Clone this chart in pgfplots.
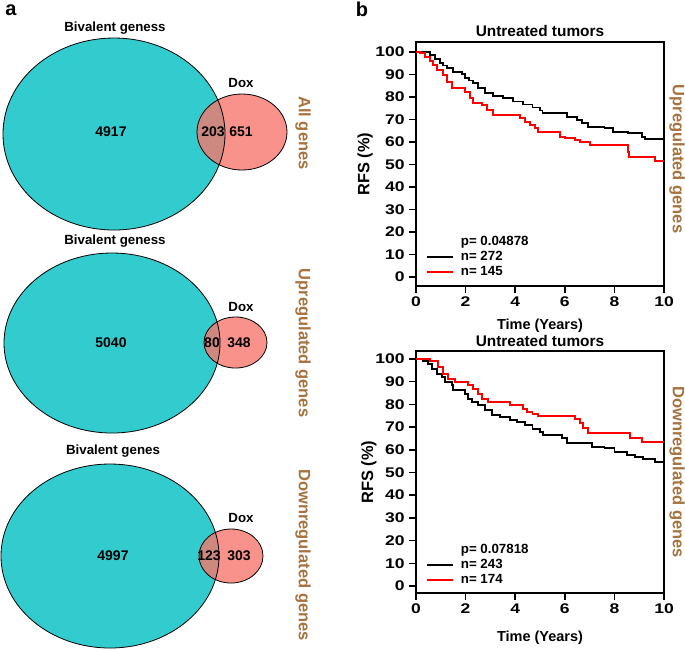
\documentclass[border=0pt]{standalone}
\usepackage{fontspec}
\setmainfont{Liberation Sans}
\usepackage{pgfplots}
\pgfplotsset{compat=1.18}
\definecolor{venncyan}{RGB}{51,204,206}
\definecolor{vennsalmon}{RGB}{249,146,138}
\definecolor{vennboth}{RGB}{205,136,128}
\definecolor{brownlab}{RGB}{166,114,62}
\definecolor{kmred}{RGB}{255,0,0}

\pgfplotsset{
  kmstyle/.style={
    scale only axis, width=248pt,
    xmin=0, xmax=10,
    xtick={0,2,...,10}, ytick={0,10,...,100},
    tick align=outside, xtick pos=bottom, ytick pos=left,
    major tick length=7pt,
    axis line style={line width=1.7pt},
    tick style={line width=1.5pt, black},
    ticklabel style={font=\fontsize{14}{14}\selectfont\bfseries, xscale=1.25},
    /pgf/number format/assume math mode=true,
    every axis title shift=0pt,
    title style={font=\fontsize{15.4}{15}\selectfont\bfseries, anchor=center},
    xlabel style={font=\fontsize{14.5}{15}\selectfont\bfseries, anchor=center},
    ylabel style={font=\fontsize{16.4}{16}\selectfont\bfseries, anchor=center},
    legend cell align=left,
    legend image code/.code={\draw[#1, line width=2pt] (0pt,0pt) -- (26pt,0pt);},
    legend style={draw=none, fill=none, inner sep=0pt, outer sep=0pt,
      font=\fontsize{13.3}{15}\selectfont\bfseries,
      nodes={inner sep=0.5pt, text height=10pt, text depth=3pt},
      row sep=1pt,
      /tikz/every odd column/.append style={column sep=6pt},
      anchor=south west},
  },
  kmline/.style={const plot, line width=1.8pt, no marks},
}

\begin{document}
\begin{tikzpicture}
\useasboundingbox (0,0) rectangle (685pt,-649pt);

% panel a: Venn diagrams, in pixel coordinates
\begin{axis}[at={(0pt,0pt)}, anchor=north west, scale only axis,
  width=685pt, height=649pt, xmin=0, xmax=685, ymin=0, ymax=649,
  y dir=reverse, hide axis, clip=false]
  \node[font=\fontsize{20}{20}\selectfont\bfseries] at (axis cs:11,10) {a};
  \node[font=\fontsize{20}{20}\selectfont\bfseries] at (axis cs:362,9) {b};

  % all genes
  \fill[venncyan] (axis cs:114,134) ellipse [x radius=111, y radius=96];
  \fill[vennsalmon] (axis cs:242,132) ellipse [x radius=45, y radius=38];
  \begin{scope}
    \clip (axis cs:114,134) ellipse [x radius=111, y radius=96];
    \fill[vennboth] (axis cs:242,132) ellipse [x radius=45, y radius=38];
  \end{scope}
  \draw[line width=0.8pt] (axis cs:114,134) ellipse [x radius=111, y radius=96];
  \draw[line width=0.8pt] (axis cs:242,132) ellipse [x radius=45, y radius=38];

  % upregulated
  \fill[venncyan] (axis cs:112,343) ellipse [x radius=108, y radius=90];
  \fill[vennsalmon] (axis cs:235.5,342.5) ellipse [x radius=31.5, y radius=25.5];
  \begin{scope}
    \clip (axis cs:112,343) ellipse [x radius=108, y radius=90];
    \fill[vennboth] (axis cs:235.5,342.5) ellipse [x radius=31.5, y radius=25.5];
  \end{scope}
  \draw[line width=0.8pt] (axis cs:112,343) ellipse [x radius=108, y radius=90];
  \draw[line width=0.8pt] (axis cs:235.5,342.5) ellipse [x radius=31.5, y radius=25.5];

  % downregulated
  \fill[venncyan] (axis cs:110,556) ellipse [x radius=109, y radius=92];
  \fill[vennsalmon] (axis cs:231,556) ellipse [x radius=32, y radius=27];
  \begin{scope}
    \clip (axis cs:110,556) ellipse [x radius=109, y radius=92];
    \fill[vennboth] (axis cs:231,556) ellipse [x radius=32, y radius=27];
  \end{scope}
  \draw[line width=0.8pt] (axis cs:110,556) ellipse [x radius=109, y radius=92];
  \draw[line width=0.8pt] (axis cs:231,556) ellipse [x radius=32, y radius=27];

  \begin{scope}[every node/.style={font=\fontsize{13.3}{14}\selectfont\bfseries}]
    \node at (axis cs:115,28) {Bivalent geness};
    \node at (axis cs:241,83) {Dox};
    \node at (axis cs:115,241) {Bivalent geness};
    \node at (axis cs:241,307) {Dox};
    \node at (axis cs:113,451) {Bivalent genes};
    \node at (axis cs:241,518) {Dox};
  \end{scope}
  \begin{scope}[every node/.style={font=\fontsize{14}{14}\selectfont\bfseries}]
    \node at (axis cs:111,132) {4917};
    \node at (axis cs:213,132) {203};
    \node at (axis cs:241,132) {651};
    \node at (axis cs:111,343) {5040};
    \node at (axis cs:212,343) {80};
    \node at (axis cs:239,343) {348};
    \node at (axis cs:113,556) {4997};
    \node at (axis cs:209,556) {123};
    \node at (axis cs:239,556) {303};
  \end{scope}
  \begin{scope}[every node/.style={rotate=-90, text=brownlab, font=\fontsize{16.5}{17}\selectfont\bfseries}]
    \node at (axis cs:303,133) {All genes};
    \node at (axis cs:303,343) {Upregulated genes};
    \node at (axis cs:303,555) {Downregulated genes};
    \node at (axis cs:677,159) {Upregulated genes};
    \node at (axis cs:677,472) {Downregulated genes};
  \end{scope}
\end{axis}

% panel b, top: upregulated genes
\begin{axis}[kmstyle, at={(416pt,-286pt)}, anchor=south west, height=244pt,
  ymin=-4, ymax=104.4,
  title={Untreated tumors}, title style={at={(0.5,1.045)}},
  xlabel={Time (Years)}, xlabel style={at={(axis description cs:0.5,-0.162)}},
  ylabel={RFS (\%)}, ylabel style={at={(axis description cs:-0.205,0.5)}},
  legend style={at={(axis cs:0.42,-0.92)}}]
\addlegendimage{empty legend}\addlegendentry{p= 0.04878}
\addplot[kmline, black] coordinates {
  (0,100) (0.36,100) (0.56,98.7) (0.75,97) (0.97,95.1) (1.1,94) (1.25,92.9)
  (1.5,91) (1.85,90.2) (1.98,88.4) (2.15,87.3) (2.3,86.2) (2.5,84) (2.78,81.8)
  (3.1,80.5) (3.5,79.5) (3.9,78) (4.3,76.6) (4.7,75.3) (5.0,74) (5.1,72.7)
  (5.9,72.7) (6.1,71.1) (6.5,69.8) (6.7,68.5) (6.94,66.7) (7.6,66.2) (7.94,64.4)
  (8.55,64) (9.1,62.2) (9.23,61.3) (10,61.3)
};
\addlegendentry{n= 272}
\addplot[kmline, kmred] coordinates {
  (0,100) (0.16,99.6) (0.36,97.8) (0.55,96) (0.7,94.2) (0.85,92) (1.1,89.8)
  (1.25,86.7) (1.45,84) (1.77,84) (1.98,82.2) (2.18,79.6) (2.3,77.3) (2.66,76.4)
  (2.86,74.2) (3.1,72) (3.9,72) (4.2,70.7) (4.4,68.9) (4.6,67.6) (4.8,66.2)
  (4.92,64.4) (5.69,64.4) (5.8,62.2) (6.0,61.8) (6.4,60.9) (6.6,60) (7.0,58.7)
  (8.5,58.7) (8.55,55.6) (8.6,53.3) (9.64,53.3) (9.64,51.6) (10,51.6)
};
\addlegendentry{n= 145}
\end{axis}

% panel b, bottom: downregulated genes
\begin{axis}[kmstyle, at={(416pt,-593pt)}, anchor=south west, height=242pt,
  ymin=-3.1, ymax=103.5,
  title={Untreated tumors}, title style={at={(0.5,1.041)}},
  xlabel={Time (Years)}, xlabel style={at={(axis description cs:0.5,-0.186)}},
  ylabel={RFS (\%)}, ylabel style={at={(axis description cs:-0.19,0.5)}},
  legend style={at={(axis cs:0.42,-0.6)}}]
\addlegendimage{empty legend}\addlegendentry{p= 0.07818}
\addplot[kmline, black] coordinates {
  (0,100) (0.28,99.1) (0.48,97.8) (0.65,95.6) (0.85,93.4) (1.05,92) (1.17,89.9)
  (1.45,88.5) (1.5,86.3) (1.98,84.6) (2.1,82.4) (2.26,81) (2.5,79.7) (2.78,77.5)
  (3.06,75.3) (3.4,74.4) (3.8,73.1) (4.07,72.2) (4.4,70.9) (4.7,69.2) (5.0,67.8)
  (5.12,66.5) (5.9,65.2) (6.1,63) (7.1,61.2) (7.6,60.8) (8.0,59) (8.5,57.7)
  (8.83,56.8) (9.15,55.9) (9.64,54.6) (10,54.6)
};
\addlegendentry{n= 243}
\addplot[kmline, kmred] coordinates {
  (0,100) (0.56,99.1) (0.89,96.5) (1.1,93.4) (1.3,91.2) (1.57,89.9) (2.1,88.5)
  (2.3,86.8) (2.5,84.6) (2.66,82.4) (2.9,81) (3.8,79.7) (4.3,78) (4.48,76.7)
  (4.7,75.8) (4.92,74.9) (6.4,73.6) (6.6,71.8) (6.74,69.6) (6.94,67.4)
  (8.63,65.2) (9.1,63.4) (10,63.4)
};
\addlegendentry{n= 174}
\end{axis}
\end{tikzpicture}
\end{document}
